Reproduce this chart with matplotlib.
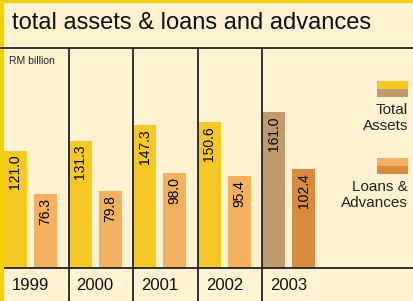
import matplotlib
matplotlib.use('Agg')
from matplotlib import pyplot as plt
from matplotlib.patches import Rectangle
import numpy as np

years = ['1999', '2000', '2001', '2002', '2003']
total_assets = [121.0, 131.3, 147.3, 150.6, 161.0]
loans_adv = [76.3, 79.8, 98.0, 95.4, 102.4]

# kolory
bg = '#FEF2D2'
border = '#F5D000'
ta_col = ['#F5C828'] * 4 + ['#BE9A6C']
la_col = ['#F3B05E'] * 4 + ['#D68B3E']
line_col = '#222222'

plt.rcParams['font.family'] = ['Liberation Sans Narrow', 'Liberation Sans', 'DejaVu Sans']

W, H = 413, 301
fig = plt.figure(figsize=(W / 100, H / 100), dpi=100)
fig.patch.set_facecolor(bg)

def fx(px):
    return px / W

def fy(py):
    return 1 - py / H

# osie: od y=48 do dolu, x od 0 do prawej
ax = fig.add_axes([0, 0, 1, fy(48)])
ax.set_facecolor(bg)
pitch = 64.6
ax.set_xlim(-4 / pitch, (W - 4) / pitch)
scale = 0.968
ax.set_ylim(-33 / scale, 220 / scale)
for s in ax.spines.values():
    s.set_visible(False)
ax.set_xticks([])
ax.set_yticks([])

x = np.arange(len(years))
bw = 23 / pitch
off = 30 / pitch
ax.bar(x, total_assets, width=bw, align='edge', color=ta_col, zorder=2)
ax.bar(x + off, loans_adv, width=bw, align='edge', color=la_col, zorder=2)

for i in range(len(years)):
    ax.text(x[i] + bw / 2, total_assets[i] - 4 / scale, '%.1f' % total_assets[i],
            rotation=90, ha='center', va='top', fontsize=10, color='black', zorder=3)
    ax.text(x[i] + off + bw / 2, loans_adv[i] - 4 / scale, '%.1f' % loans_adv[i],
            rotation=90, ha='center', va='top', fontsize=10, color='black', zorder=3)
    ax.text(x[i] + (off + bw) / 2, -17 / scale, years[i], ha='center', va='center',
            fontsize=12, color='#111111')

# linie siatki
ax.axhline(0, color=line_col, lw=1.3, zorder=4)
for i in range(1, len(years)):
    ax.axvline(i, color=line_col, lw=1.3, zorder=4)
fig.add_artist(plt.Line2D([0, 1], [fy(48), fy(48)], color=line_col, lw=1.3))

# ramka zolta
fig.add_artist(Rectangle((0, 0), fx(4), 1, color=border, lw=0))
fig.add_artist(Rectangle((0, fy(3)), 1, fy(0) - fy(3), color=border, lw=0))

fig.text(fx(12), fy(23), 'total assets & loans and advances', fontsize=17,
         ha='left', va='center', color='#111111')
fig.text(fx(9), fy(61), 'RM billion', fontsize=7.5, ha='left', va='center', color='#222222')

# legenda
def leg_patch(y0, c1, c2):
    fig.add_artist(Rectangle((fx(377), fy(y0 + 8)), fx(31), fy(y0) - fy(y0 + 8), color=c1, lw=0))
    fig.add_artist(Rectangle((fx(377), fy(y0 + 16)), fx(31), fy(y0 + 8) - fy(y0 + 16), color=c2, lw=0))

leg_patch(81, ta_col[0], ta_col[4])
leg_patch(158, la_col[0], la_col[4])
fig.text(fx(408), fy(118), 'Total\nAssets', fontsize=11, ha='right', va='center',
         linespacing=1.15, color='#222222')
fig.text(fx(408), fy(195), 'Loans &\nAdvances', fontsize=11, ha='right', va='center',
         linespacing=1.15, color='#222222')

fig.savefig('out.png', dpi=100, facecolor=bg)
